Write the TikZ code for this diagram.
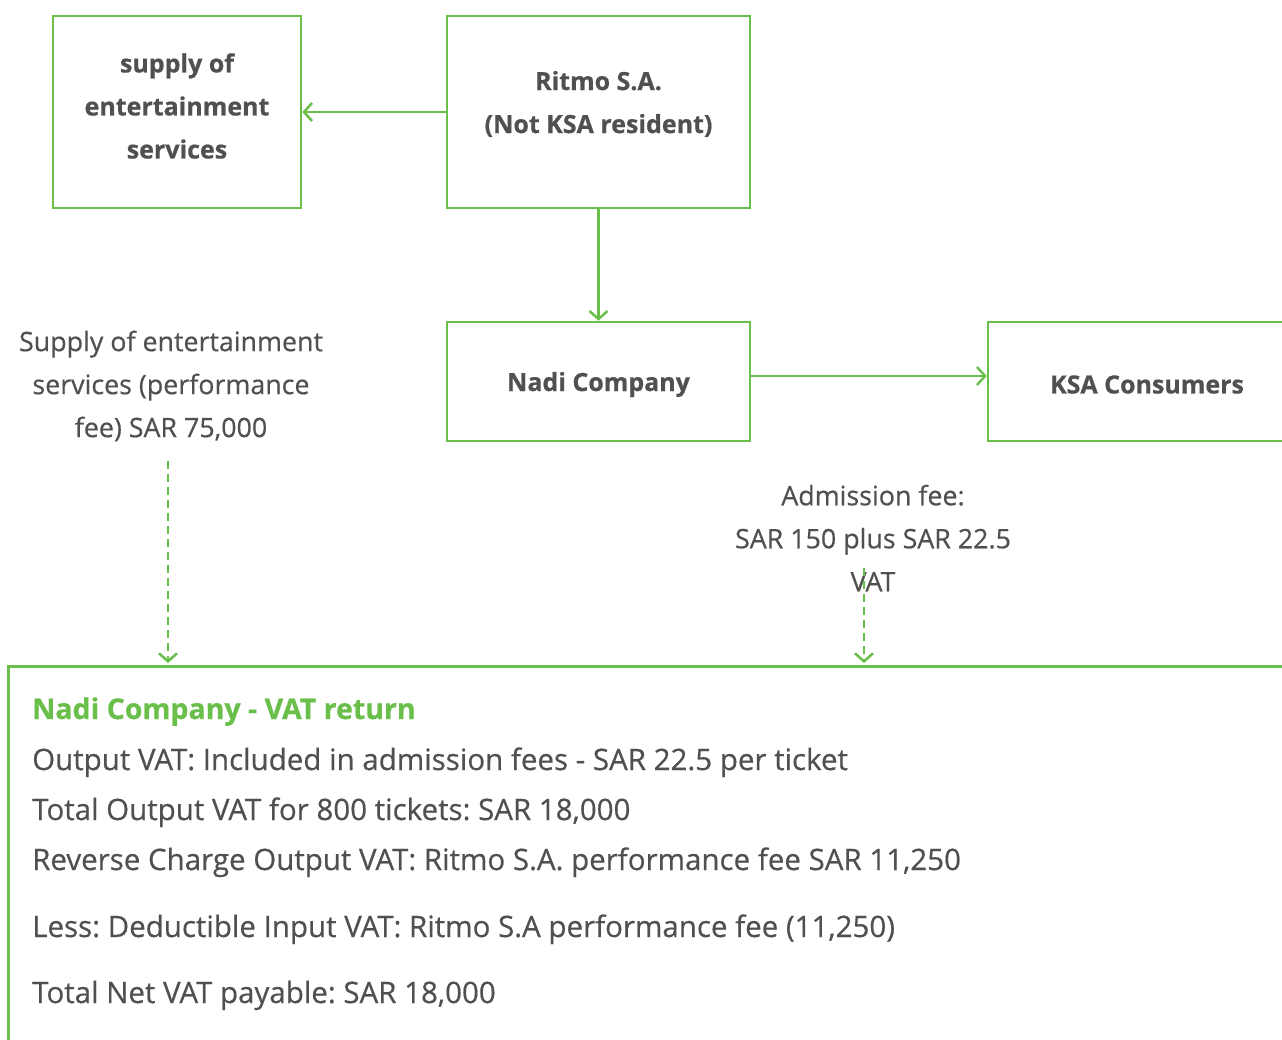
\documentclass[tikz,border=0pt]{standalone}
\usepackage{fontspec}
\setmainfont{Open Sans}[UprightFeatures={FakeBold=0.5},BoldFeatures={FakeBold=0.6}]
\usetikzlibrary{arrows.meta,calc}
\definecolor{grn}{HTML}{6ABF4B}
\definecolor{txt}{HTML}{505050}
\frenchspacing
\begin{document}
\begin{tikzpicture}[x=1pt,y=-1pt,
  boxnode/.style={draw=grn,line width=2.6pt,inner sep=0pt},
  boxtext/.style={align=center,text=txt,inner sep=0pt,font=\fontsize{25}{43}\selectfont\bfseries},
  lbl/.style={align=center,text=txt,inner sep=0pt,font=\fontsize{26.8}{43}\selectfont},
  conn/.style={draw=grn,line width=2.5pt,-{Straight Barb[length=8pt,width=18pt,line width=2.5pt]}},
  dconn/.style={conn,dash pattern=on 8pt off 5pt},
  retline/.style={anchor=base west,inner sep=0pt,text=txt,font=\fontsize{29.5}{30}\selectfont}]
\useasboundingbox (0,0) rectangle (1282,1039);
\clip (0,0) rectangle (1282,1039);
\node[boxnode,minimum width=248pt,minimum height=192pt] (supply) at (177,112) {};
\node[boxnode,minimum width=303pt,minimum height=192pt] (ritmo) at (598.5,112) {};
\node[boxnode,minimum width=303pt,minimum height=119pt] (nadi) at (598.5,381.5) {};
\node[boxnode,minimum width=318pt,minimum height=119pt] (ksa) at (1147,381.5) {};
\node[boxtext] (supplyt) at ([yshift=6pt]supply.center) {supply of\\entertainment\\services};
\node[boxtext] (ritmot) at ([yshift=8pt]ritmo.center) {Ritmo S.A.\\(Not KSA resident)};
\node[boxtext] (nadit) at ([yshift=-3pt]nadi.center) {Nadi Company};
\node[boxtext] (ksat) at ([yshift=-3pt]ksa.center) {KSA Consumers};
\node[draw=grn,line width=2.6pt,inner sep=0pt,minimum width=1320pt,minimum height=420pt,anchor=north west] (vat) at (7,665) {};
\node[lbl] (lab1) at (171,386) {Supply of entertainment\\services (performance\\fee) SAR 75,000};
\node[lbl] (lab2) at (873,538) {Admission fee:\\SAR 150 plus SAR 22.5\\VAT};
\coordinate (s2) at (864,568);
\draw[conn] (ritmo.west) -- (supply.east);
\draw[conn] (ritmo.south) -- (nadi.north);
\draw[conn] ([yshift=5.5pt]nadi.east) -- ([yshift=5.5pt]ksa.west);
\draw[dconn] ($(lab1.south)+(-3,19)$) -- ($(lab1.south |- vat.north)+(-3,-2)$);
\draw[dconn] (s2) -- ($(s2 |- vat.north)+(0,-2)$);
\node[retline,text=grn,font=\fontsize{28.5}{30}\selectfont\bfseries] (t0) at (32,719) {Nadi Company - VAT return};
\node[retline] (t1) at (32,770) {Output VAT: Included in admission fees - SAR 22.5 per ticket};
\node[retline] (t2) at (32,820) {Total Output VAT for 800 tickets: SAR 18,000};
\node[retline] (t3) at (32,870) {Reverse Charge Output VAT: Ritmo S.A. performance fee SAR 11,250};
\node[retline] (t4) at (32,937) {Less: Deductible Input VAT: Ritmo S.A performance fee (11,250)};
\node[retline] (t5) at (32,1003) {Total Net VAT payable: SAR 18,000};
\end{tikzpicture}
\end{document}
